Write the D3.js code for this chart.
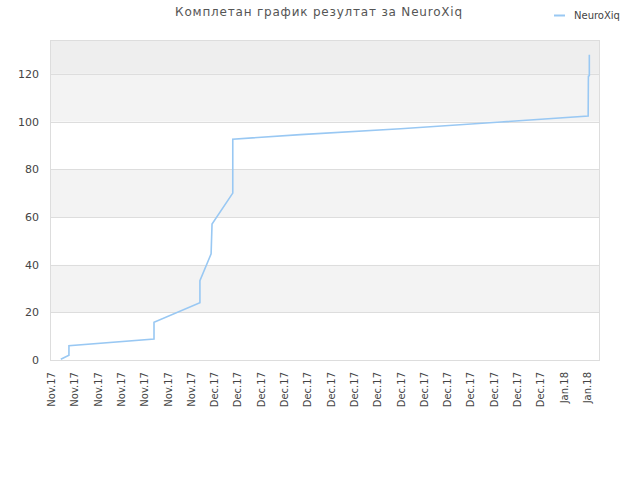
<!DOCTYPE html>
<html><head><meta charset="utf-8">
<script src="https://cdn.jsdelivr.net/npm/d3@7"></script>
<style>body{margin:0;background:#fff;} text{font-family:"DejaVu Sans",sans-serif;}</style>
</head><body>
<svg id="c" width="640" height="480"></svg>
<script>
const title = "Комплетан график резултат за NeuroXiq";
const seriesName = "NeuroXiq";
const xTickLabels = ["Nov.17","Nov.17","Nov.17","Nov.17","Nov.17","Nov.17","Nov.17",
  "Dec.17","Dec.17","Dec.17","Dec.17","Dec.17","Dec.17","Dec.17","Dec.17","Dec.17",
  "Dec.17","Dec.17","Dec.17","Dec.17","Dec.17","Dec.17","Jan.18","Jan.18"];
const yTicks = [0,20,40,60,80,100,120];
// position along the x axis in tick units
const pointX = [0.42,0.77,0.77,4.42,4.42,6.39,6.39,6.87,6.91,7.80,7.80,10.7,15.0,19.3,23.05,23.06,23.10,23.10];
const pointY = [0.3, 2.0, 6.0, 8.8, 15.8,24.0,33.3,44.5,57.0,70.0,92.6,94.5,97.0,99.8,102.3,119.0,119.3,128.0];

const svg = d3.select("#c");
const L=50, R=600, T=40, B=360;
const x = d3.scaleLinear().domain([0, xTickLabels.length-1]).range([51, 587]);
const y = d3.scaleLinear().domain([0, 134.2]).range([B, T]);

// bands
const bands = [[0,20,"#ffffff"],[20,40,"#f3f3f3"],[40,60,"#ffffff"],[60,80,"#f3f3f3"],[80,100,"#ffffff"],[100,120,"#f3f3f3"],[120,134.2,"#eeeeee"]];
svg.append("g").selectAll("rect").data(bands).join("rect")
  .attr("x",L).attr("width",R-L)
  .attr("y",d=>y(d[1])).attr("height",d=>y(d[0])-y(d[1]))
  .attr("fill",d=>d[2]);

// grid
svg.append("g").selectAll("line").data(yTicks.slice(1)).join("line")
  .attr("x1",L).attr("x2",R).attr("y1",d=>Math.round(y(d))+0.5).attr("y2",d=>Math.round(y(d))+0.5)
  .attr("stroke","#dddddd");

svg.append("rect").attr("x",L+0.5).attr("y",T+0.5).attr("width",R-L-1).attr("height",B-T)
  .attr("fill","none").attr("stroke","#dddddd");

// y axis labels
const yAxis = d3.axisLeft(y).tickValues(yTicks).tickSize(0).tickPadding(11);
const gy = svg.append("g").attr("transform",`translate(${L},0)`).call(yAxis);
gy.select(".domain").remove();
gy.selectAll("text").attr("fill","#444").style("font-size","11px").style("font-family","DejaVu Sans");

// x axis labels
const xAxis = d3.axisBottom(x).tickValues(d3.range(xTickLabels.length)).tickFormat(i=>xTickLabels[i]).tickSize(0);
const gx = svg.append("g").attr("transform",`translate(0,${B})`).call(xAxis);
gx.select(".domain").remove();
gx.selectAll("text").attr("fill","#444").style("font-size","10px").style("font-family","DejaVu Sans")
  .attr("transform","rotate(-90)").attr("text-anchor","end").attr("x",-12).attr("y",0).attr("dy","0.35em");

// line
const pts = pointX.map((v,i)=>[v,pointY[i]]);
svg.append("path").datum(pts)
  .attr("d", d3.line().x(d=>x(d[0])).y(d=>y(d[1])))
  .attr("fill","none").attr("stroke","#99c8f3").attr("stroke-width",1.6);

// title
svg.append("text").attr("x",319).attr("y",16).attr("text-anchor","middle")
  .attr("fill","#555").style("font-size","12px").style("letter-spacing","0.8px").text(title);

// legend
svg.append("line").attr("x1",554).attr("x2",565).attr("y1",15.5).attr("y2",15.5)
  .attr("stroke","#99c8f3").attr("stroke-width",2);
svg.append("text").attr("x",574).attr("y",19).attr("fill","#444").style("font-size","10px").text(seriesName);
</script>
</body></html>
